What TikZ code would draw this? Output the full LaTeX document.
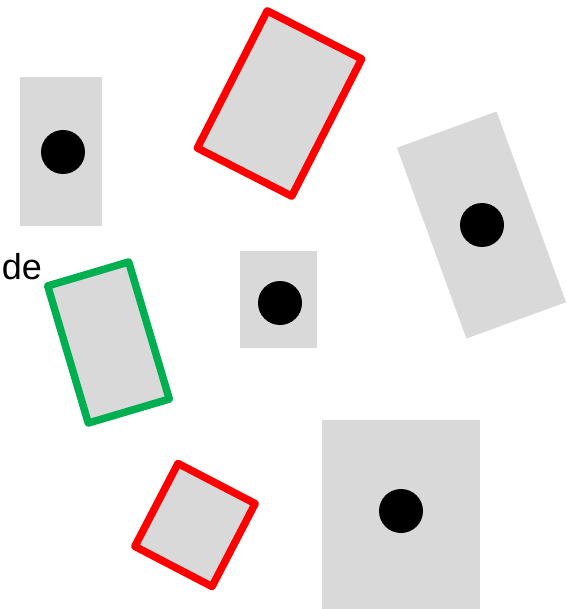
\documentclass[tikz,border=0pt]{standalone}
\usepackage{fontspec}
\setmainfont{Liberation Sans}
\usetikzlibrary{positioning}
\definecolor{slab}{HTML}{D9D9D9}
\definecolor{hit}{HTML}{FF0000}
\definecolor{keep}{HTML}{00B050}
\tikzset{
  tile/.style={rectangle,fill=slab,inner sep=0pt,outer sep=0pt},
  marked/.style={tile,draw=#1,line width=7.5pt,line join=round},
  dot/.style={circle,fill=black,inner sep=0pt,minimum size=44pt}
}

\begin{document}
\begin{tikzpicture}[x=1pt,y=-1pt]
\useasboundingbox (0,0) rectangle (566,609);
% plain tiles with a dot
\node[tile,minimum width=82pt,minimum height=149pt] (tileA) at (61,152) {};
\node[tile,minimum width=77pt,minimum height=97pt] (tileB) at (278.5,299.5) {};
\node[tile,minimum width=158pt,minimum height=189pt] (tileC) at (401,514.5) {};
\node[tile,rotate=20,minimum width=106pt,minimum height=203pt] (tileD) at (481.5,225) {};
\node[dot] (dotA) at (63,152) {};
\node[dot] (dotB) at (280,303) {};
\node[dot] (dotC) at (401,511) {};
\node[dot] (dotD) at (482,225) {};
% outlined tiles
\node[marked=hit,rotate=-27,minimum width=106pt,minimum height=154pt] (redTop) at (279.5,103.5) {};
\node[marked=hit,rotate=-27.5,minimum width=87pt,minimum height=93.5pt] (redLow) at (195,525) {};
\node[marked=keep,rotate=16.5,minimum width=84.5pt,minimum height=143pt] (greenMid) at (108.5,342.5) {};
\node[anchor=base east,inner sep=0pt,font=\fontsize{36}{42}\selectfont] (label) at (42,279) {de};
\end{tikzpicture}
\end{document}
